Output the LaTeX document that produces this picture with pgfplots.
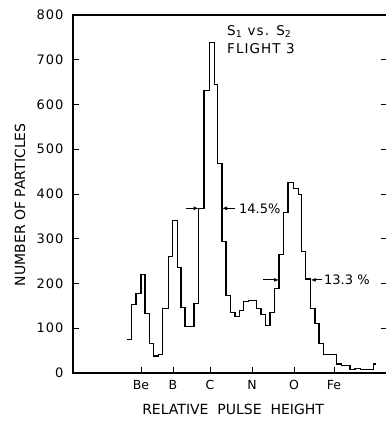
\documentclass[border=0pt]{standalone}
\usepackage{fontspec}
\setmainfont{DejaVu Sans}
\newfontfamily\widefont{DejaVu Sans}[LetterSpace=8]
\usepackage{pgfplots}
\pgfplotsset{compat=1.18}
\usetikzlibrary{arrows.meta}

\begin{document}
\begin{tikzpicture}
\begin{axis}[
  name=ax,
  scale only axis,
  width=314pt, height=358pt,
  xmin=73, xmax=387, ymin=0, ymax=800,
  xtick={141,173,210,252,294,334},
  xticklabels={Be,B,C,N,O,Fe},
  ytick={0,100,...,800},
  xtick pos=left,
  yticklabel pos=left,
  tick align=inside,
  major tick length=6pt,
  tick style={line width=0.9pt, black},
  axis line style={line width=1.1pt},
  /pgf/number format/assume math mode=true,
  yticklabel style={font=\widefont\fontsize{13}{13}\selectfont, xshift=-6pt},
  xticklabel style={font=\fontsize{12.5}{12.5}\selectfont, yshift=-4pt},
  xlabel={RELATIVE\ \ PULSE\ \ HEIGHT},
  ylabel={NUMBER OF PARTICLES},
  label style={font=\fontsize{14}{14}\selectfont},
  xlabel style={at={(axis description cs:0.51,-0.103)}, anchor=center},
  ylabel style={at={(axis description cs:-0.169,0.47)}, anchor=center, rotate=0},
  clip=false,
]
\addplot[const plot, line width=1.1pt, black] coordinates {
(127,74) (131.7,153) (136,178) (141,220) (145,133) (149.3,65) (153.7,38)
(158.7,42) (162.7,144) (168.3,260) (172.3,340) (177.3,235) (181,146)
(185,103) (194,156) (198.7,368) (204,631) (209.3,738) (214.3,645)
(217.7,468) (222,293) (226,174) (230.3,135) (235,127) (239.3,139)
(243.7,159) (248.3,163) (256.7,144) (261,130) (265.7,107) (270,136)
(274.3,188) (279,264) (283.3,359) (288,425) (293.3,413) (298.3,398)
(301.7,271) (305.7,210) (310.7,144) (315,111) (319,66) (323.3,42)
(336.7,20) (341.7,16) (350,8) (355,10) (360.7,8) (373.3,20) (376,20)
};
\draw[line width=0.9pt, -{Latex[length=5pt,width=4pt]}] (axis cs:186,368) -- (axis cs:198.7,368);
\draw[line width=0.9pt, -{Latex[length=5pt,width=4pt]}] (axis cs:235,368) -- (axis cs:222,368);
\node[anchor=west, font=\fontsize{13}{13}\selectfont, inner sep=0pt] at (axis cs:239,368) {14.5\%};
\draw[line width=0.9pt, -{Latex[length=5pt,width=4pt]}] (axis cs:263,208) -- (axis cs:279,208);
\draw[line width=0.9pt, -{Latex[length=5pt,width=4pt]}] (axis cs:322,208) -- (axis cs:310.7,208);
\node[anchor=west, font=\fontsize{13}{13}\selectfont, inner sep=0pt] at (axis cs:324,208) {13.3 \%};
\node[anchor=west, font=\widefont\fontsize{13.5}{13.5}\selectfont, inner sep=0pt] at (axis cs:227,764) {S\textsubscript{1} vs. S\textsubscript{2}};
\node[anchor=west, font=\widefont\fontsize{13.5}{13.5}\selectfont, inner sep=0pt] at (axis cs:227,724) {FLIGHT 3};
\end{axis}
\pgfresetboundingbox
\path[use as bounding box] ([xshift=-73pt,yshift=-52pt]ax.south west) rectangle ([xshift=-2pt,yshift=15pt]ax.north east);
\end{tikzpicture}
\end{document}
